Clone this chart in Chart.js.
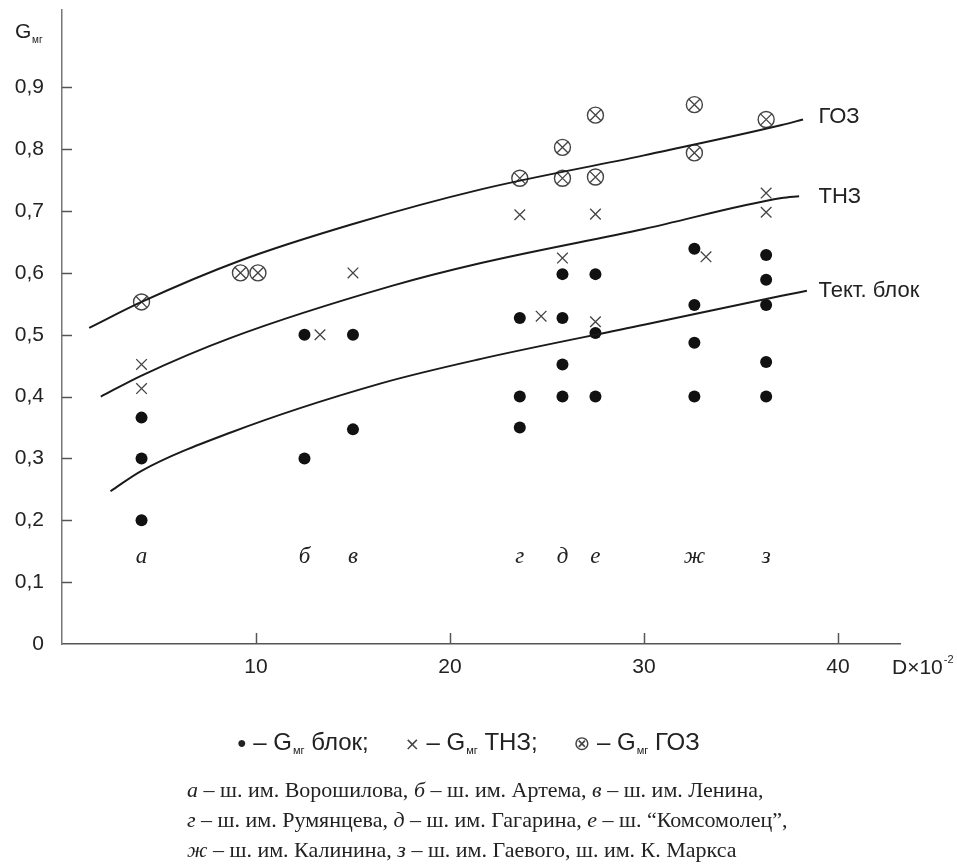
<!DOCTYPE html>
<html lang="ru">
<head>
<meta charset="UTF-8">
<title>Gмг</title>
<script src="https://cdn.jsdelivr.net/npm/chart.js@4.4.0/dist/chart.umd.min.js"></script>
<style>
    body { margin: 0; background: #fff; }
    #wrap { position: relative; width: 957px; height: 864px; }
    #legend { position: absolute; left: 237px; top: 728px; font: 24px "Liberation Sans", Arial, sans-serif; color: #222; white-space: pre; }
    #legend sub { font-size: 11px; vertical-align: -4px; margin-left: 1px; }
    #legend .gap { display: inline-block; width: 36px; }
    #caption { position: absolute; left: 187px; top: 775px; font: 22px "Liberation Serif", "Times New Roman", serif; line-height: 30px; color: #222; white-space: nowrap; }
</style>
</head>
<body>
<div id="wrap">
    <canvas id="myChart" width="957" height="864"></canvas>
    <div id="legend"><span style="font-size:16px;vertical-align:2px">●</span> – G<sub>мг</sub> блок;<span class="gap"></span><span style="font-family:'DejaVu Sans';font-size:18px;color:#444">×</span> – G<sub>мг</sub> ТНЗ;<span class="gap"></span><span style="font-family:'DejaVu Sans';font-size:20px;color:#444">⊗</span> – G<sub>мг</sub> ГОЗ</div>
    <div id="caption">
        <i>а</i> – ш. им. Ворошилова, <i>б</i> – ш. им. Артема, <i>в</i> – ш. им. Ленина,<br>
        <i>г</i> – ш. им. Румянцева, <i>д</i> – ш. им. Гагарина, <i>е</i> – ш. “Комсомолец”,<br>
        <i>ж</i> – ш. им. Калинина, <i>з</i> – ш. им. Гаевого, ш. им. К. Маркса
    </div>
</div>
<script>
    // mine letters and their D position
    const mines = ['а', 'б', 'в', 'г', 'д', 'е', 'ж', 'з'];
    const mineD = [4.1, 12.5, 15.0, 23.6, 25.8, 27.5, 32.6, 36.3];

    // G_мг block (dots)
    const blockD = [4.1, 4.1, 4.1, 12.5, 12.5, 15.0, 15.0, 23.6, 23.6, 23.6,
        25.8, 25.8, 25.8, 25.8, 27.5, 27.5, 27.5, 32.6, 32.6, 32.6, 32.6,
        36.3, 36.3, 36.3, 36.3, 36.3];
    const blockG = [0.366, 0.30, 0.20, 0.50, 0.30, 0.50, 0.347, 0.527, 0.40, 0.35,
        0.598, 0.527, 0.452, 0.40, 0.598, 0.503, 0.40, 0.639, 0.548, 0.487, 0.40,
        0.629, 0.589, 0.548, 0.456, 0.40];

    // G_мг ТНЗ (crosses)
    const thzD = [4.1, 4.1, 13.3, 15.0, 23.6, 24.7, 25.8, 27.5, 27.5, 33.2, 36.3, 36.3];
    const thzG = [0.452, 0.413, 0.50, 0.60, 0.694, 0.53, 0.624, 0.695, 0.521, 0.626, 0.729, 0.698];

    // G_мг ГОЗ (circled crosses)
    const gozD = [4.1, 9.2, 10.1, 23.6, 25.8, 25.8, 27.5, 27.5, 32.6, 32.6, 36.3];
    const gozG = [0.553, 0.60, 0.60, 0.753, 0.803, 0.753, 0.855, 0.755, 0.872, 0.794, 0.848];

    // fitted curves
    const curveNames = ['ГОЗ', 'ТНЗ', 'Тект. блок'];
    const gozCurveD = [1.4, 4.1, 9.2, 15, 21.6, 30, 37.1, 38.2];
    const gozCurveG = [0.511, 0.553, 0.62, 0.679, 0.735, 0.79, 0.839, 0.848];
    const thzCurveD = [2.0, 4.1, 8.7, 17, 21.6, 30, 37.1, 38.0];
    const thzCurveG = [0.40, 0.434, 0.495, 0.579, 0.616, 0.671, 0.721, 0.724];
    const blockCurveD = [2.5, 4.1, 8.7, 16.4, 21.6, 30, 37.1, 38.4];
    const blockCurveG = [0.247, 0.28, 0.342, 0.421, 0.461, 0.516, 0.563, 0.571];

    const xTicks = [10, 20, 30, 40];
    const yTicks = [0, 0.1, 0.2, 0.3, 0.4, 0.5, 0.6, 0.7, 0.8, 0.9];

    const pts = (xs, ys) => xs.map((x, i) => ({ x: x, y: ys[i] }));
    const FONT = '"Liberation Sans", Arial, sans-serif';

    const curve = (xs, ys) => ({
        type: 'line', data: pts(xs, ys), borderColor: '#1a1a1a', borderWidth: 2,
        pointRadius: 0, cubicInterpolationMode: 'monotone', fill: false
    });

    // inside ticks, curve labels, letters, axis titles
    const extras = {
        id: 'extras',
        afterDraw(chart) {
            const ctx = chart.ctx, xs = chart.scales.x, ys = chart.scales.y;
            const a = chart.chartArea;
            ctx.save();
            ctx.strokeStyle = '#555';
            ctx.lineWidth = 1.5;
            yTicks.slice(1).forEach(v => {
                const py = Math.round(ys.getPixelForValue(v)) + 0.5;
                ctx.beginPath(); ctx.moveTo(a.left, py); ctx.lineTo(a.left + 10, py); ctx.stroke();
            });
            xTicks.forEach(v => {
                const px = Math.round(xs.getPixelForValue(v)) + 0.5;
                ctx.beginPath(); ctx.moveTo(px, a.bottom); ctx.lineTo(px, a.bottom - 11); ctx.stroke();
            });

            ctx.fillStyle = '#222';
            ctx.textBaseline = 'middle';
            ctx.font = '22px ' + FONT;
            const labelAt = [0.852, 0.723, 0.571];
            curveNames.forEach((n, i) => {
                ctx.fillText(n, xs.getPixelForValue(39.0), ys.getPixelForValue(labelAt[i]));
            });

            ctx.textAlign = 'center';
            ctx.font = 'italic 23px "Liberation Serif", "Times New Roman", serif';
            mines.forEach((m, i) => {
                ctx.fillText(m, xs.getPixelForValue(mineD[i]), ys.getPixelForValue(0.14));
            });

            ctx.textAlign = 'left';
            ctx.textBaseline = 'alphabetic';
            ctx.font = '21px ' + FONT;
            ctx.fillText('G', 15, 38);
            ctx.font = '10px ' + FONT;
            ctx.fillText('мг', 32, 43);

            ctx.font = '21px ' + FONT;
            ctx.fillText('D×10', 892, 674);
            const w = ctx.measureText('D×10').width;
            ctx.font = '11px ' + FONT;
            ctx.fillText('-2', 892 + w + 1, 663);
            ctx.restore();
        }
    };

    const ctx = document.getElementById('myChart').getContext('2d');
    const myChart = new Chart(ctx, {
        type: 'scatter',
        data: {
            datasets: [
                curve(gozCurveD, gozCurveG),
                curve(thzCurveD, thzCurveG),
                curve(blockCurveD, blockCurveG),
                {
                    data: pts(blockD, blockG), pointStyle: 'circle', pointRadius: 6,
                    backgroundColor: '#111', borderColor: '#111', borderWidth: 0
                },
                {
                    data: pts(thzD, thzG), pointStyle: 'crossRot', pointRadius: 7.5,
                    borderColor: '#444', borderWidth: 1.3
                },
                {
                    data: pts(gozD, gozG), pointStyle: 'circle', pointRadius: 8,
                    backgroundColor: 'rgba(0,0,0,0)', borderColor: '#444', borderWidth: 1.4
                },
                {
                    data: pts(gozD, gozG), pointStyle: 'crossRot', pointRadius: 8,
                    borderColor: '#444', borderWidth: 1.3
                }
            ]
        },
        options: {
            responsive: false,
            animation: false,
            layout: { padding: { left: 0, right: 57, top: 8, bottom: 0 } },
            plugins: { legend: { display: false }, tooltip: { enabled: false } },
            scales: {
                x: {
                    type: 'linear', min: 0, max: 43.2,
                    afterBuildTicks: s => { s.ticks = xTicks.map(v => ({ value: v })); },
                    afterFit: s => { s.height = 220; s.paddingLeft = 0; s.paddingRight = 0; },
                    grid: { display: false, drawTicks: false },
                    border: { display: true, color: '#555', width: 1.5 },
                    ticks: { padding: 11, color: '#222', font: { family: FONT, size: 21 } }
                },
                y: {
                    type: 'linear', min: 0, max: 1.026,
                    afterBuildTicks: s => { s.ticks = yTicks.map(v => ({ value: v })); },
                    afterFit: s => { s.width = 62; s.paddingTop = 0; s.paddingBottom = 0; },
                    grid: { display: false, drawTicks: false },
                    border: { display: true, color: '#777', width: 1.5 },
                    ticks: {
                        padding: 18, color: '#222', font: { family: FONT, size: 21 },
                        callback: v => v === 0 ? '0' : v.toFixed(1).replace('.', ',')
                    }
                }
            }
        },
        plugins: [extras]
    });
</script>
</body>
</html>
